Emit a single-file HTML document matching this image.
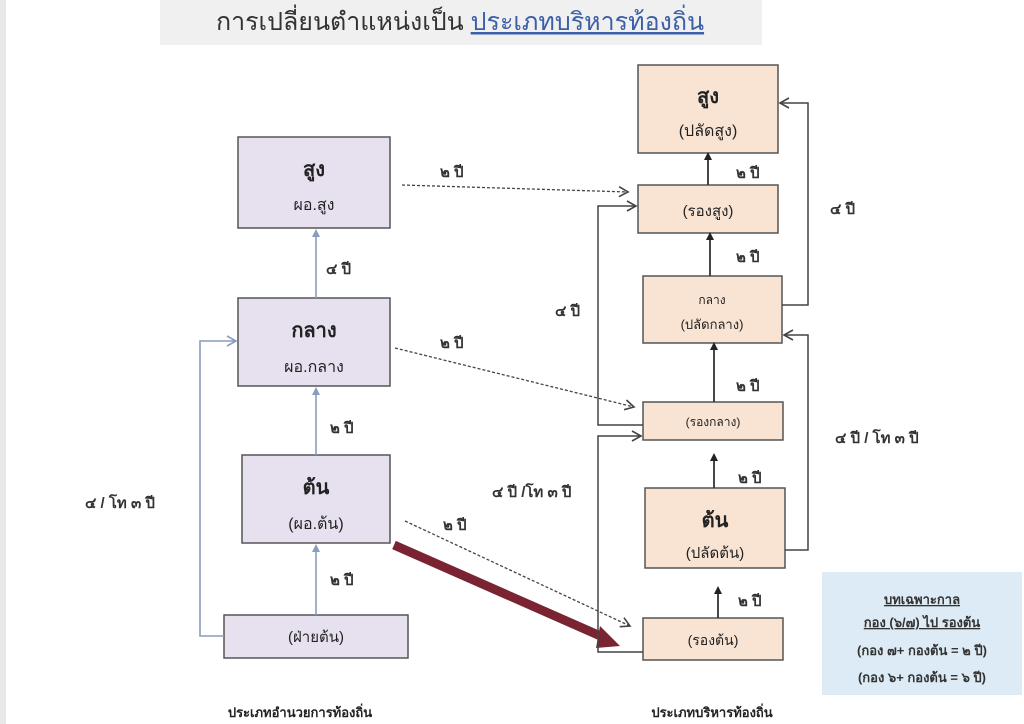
<!DOCTYPE html>
<html><head><meta charset="utf-8"><style>
html,body{margin:0;padding:0;background:#fff;}
svg{display:block;}
text{font-family:"Liberation Sans","Noto Sans CJK SC",sans-serif;}
</style></head><body>
<svg width="1024" height="724" viewBox="0 0 1024 724" xmlns="http://www.w3.org/2000/svg">
<defs>
<marker id="ob" markerWidth="12" markerHeight="12" refX="10" refY="6" orient="auto" markerUnits="userSpaceOnUse"><path d="M1,1 L10,6 L1,11" fill="none" stroke="#8a9cc0" stroke-width="1.6"/></marker>
<marker id="od" markerWidth="12" markerHeight="12" refX="10" refY="6" orient="auto" markerUnits="userSpaceOnUse"><path d="M1,1 L10,6 L1,11" fill="none" stroke="#444" stroke-width="1.6"/></marker>
<marker id="fd" markerWidth="8" markerHeight="8" refX="4" refY="4" orient="auto" markerUnits="userSpaceOnUse"><path d="M0,0 L8,4 L0,8 Z" fill="#222"/></marker>
<marker id="fb" markerWidth="8" markerHeight="8" refX="4" refY="4" orient="auto" markerUnits="userSpaceOnUse"><path d="M0,0 L8,4 L0,8 Z" fill="#8a9cc0"/></marker>
</defs>
<rect x="0" y="0" width="1024" height="724" fill="#fff"/>
<rect x="0" y="0" width="6" height="724" fill="#e8e8e8"/>
<rect x="160" y="0" width="602" height="45" fill="#f0f0f0"/>
<text x="460" y="30" font-size="25" text-anchor="middle" fill="#333">การเปลี่ยนตำแหน่งเป็น <tspan fill="#3b5fa8" text-decoration="underline">ประเภทบริหารท้องถิ่น</tspan></text>

<g fill="#e7e0ef" stroke="#555" stroke-width="1.5">
<rect x="238" y="137" width="152" height="91"/>
<rect x="238" y="298" width="152" height="88"/>
<rect x="242" y="455" width="148" height="88"/>
<rect x="224" y="615" width="184" height="43"/>
</g>
<g fill="#222" text-anchor="middle" font-weight="bold">
<text x="314" y="176" font-size="20">สูง</text>
<text x="314" y="210" font-size="16" font-weight="normal">ผอ.สูง</text>
<text x="314" y="337" font-size="20">กลาง</text>
<text x="314" y="372" font-size="16" font-weight="normal">ผอ.กลาง</text>
<text x="316" y="494" font-size="20">ต้น</text>
<text x="316" y="529" font-size="16" font-weight="normal">(ผอ.ต้น)</text>
<text x="316" y="642" font-size="15" font-weight="normal">(ฝ่ายต้น)</text>
</g>

<g stroke="#8a9cc0" stroke-width="1.6" fill="none">
<line x1="316" y1="615" x2="316" y2="548" marker-end="url(#fb)"/>
<line x1="316" y1="455" x2="316" y2="391" marker-end="url(#fb)"/>
<line x1="316" y1="298" x2="316" y2="233" marker-end="url(#fb)"/>
<polyline points="224,636 200,636 200,341 236,341" marker-end="url(#ob)"/>
</g>

<g fill="#333" font-size="15" font-weight="bold">
<text x="330" y="585">๒ ปี</text>
<text x="330" y="433">๒ ปี</text>
<text x="326" y="274">๔ ปี</text>
<text x="85" y="508">๔ / โท ๓ ปี</text>
<text x="440" y="177">๒ ปี</text>
<text x="440" y="348">๒ ปี</text>
<text x="443" y="530">๒ ปี</text>
<text x="555" y="316">๔ ปี</text>
<text x="492" y="497">๔ ปี /โท ๓ ปี</text>
<text x="736" y="178">๒ ปี</text>
<text x="736" y="262">๒ ปี</text>
<text x="736" y="391">๒ ปี</text>
<text x="738" y="483">๒ ปี</text>
<text x="738" y="606">๒ ปี</text>
<text x="830" y="214">๔ ปี</text>
<text x="835" y="443">๔ ปี / โท ๓ ปี</text>
</g>

<g stroke="#444" stroke-width="1.3" stroke-dasharray="3,2" fill="none">
<line x1="402" y1="185" x2="628" y2="192" marker-end="url(#od)"/>
<line x1="395" y1="348" x2="634" y2="407" marker-end="url(#od)"/>
<line x1="405" y1="521" x2="630" y2="626" marker-end="url(#od)"/>
</g>
<line x1="394" y1="545" x2="605" y2="638" stroke="#7a2433" stroke-width="9"/>
<path d="M600,626 L620,646 L596,648 Z" fill="#7a2433"/>

<g fill="#f9e4d4" stroke="#555" stroke-width="1.5">
<rect x="638" y="65" width="140" height="88"/>
<rect x="638" y="185" width="140" height="48"/>
<rect x="643" y="276" width="139" height="67"/>
<rect x="643" y="402" width="140" height="38"/>
<rect x="645" y="488" width="140" height="80"/>
<rect x="643" y="618" width="140" height="42"/>
</g>
<g fill="#222" text-anchor="middle">
<text x="708" y="103" font-size="20" font-weight="bold">สูง</text>
<text x="708" y="136" font-size="16">(ปลัดสูง)</text>
<text x="708" y="216" font-size="15">(รองสูง)</text>
<text x="712" y="304" font-size="12">กลาง</text>
<text x="712" y="329" font-size="13">(ปลัดกลาง)</text>
<text x="713" y="426" font-size="12">(รองกลาง)</text>
<text x="715" y="527" font-size="20" font-weight="bold">ต้น</text>
<text x="715" y="558" font-size="15">(ปลัดต้น)</text>
<text x="713" y="645" font-size="14">(รองต้น)</text>
</g>

<g stroke="#333" stroke-width="1.8" fill="none">
<line x1="718" y1="618" x2="718" y2="590" marker-end="url(#fd)"/>
<line x1="714" y1="488" x2="714" y2="457" marker-end="url(#fd)"/>
<line x1="714" y1="402" x2="714" y2="346" marker-end="url(#fd)"/>
<line x1="710" y1="276" x2="710" y2="236" marker-end="url(#fd)"/>
<line x1="708" y1="185" x2="708" y2="156" marker-end="url(#fd)"/>
</g>
<g stroke="#444" stroke-width="1.5" fill="none">
<polyline points="782,305 808,305 808,103 780,103" marker-end="url(#od)"/>
<polyline points="785,550 808,550 808,335 784,335" marker-end="url(#od)"/>
<polyline points="643,425 598,425 598,206 636,206" marker-end="url(#od)"/>
<polyline points="643,652 598,652 598,436 641,436" marker-end="url(#od)"/>
</g>

<rect x="822" y="572" width="200" height="123" fill="#dcebf5"/>
<g fill="#333" font-size="13" font-weight="bold" text-anchor="middle">
<text x="922" y="604" text-decoration="underline">บทเฉพาะกาล</text>
<text x="922" y="627" text-decoration="underline">กอง (๖/๗) ไป รองต้น</text>
<text x="922" y="655">(กอง ๗+ กองต้น = ๒ ปี)</text>
<text x="922" y="682">(กอง ๖+ กองต้น = ๖ ปี)</text>
</g>

<g fill="#222" font-size="13" font-weight="bold" text-anchor="middle">
<text x="300" y="717">ประเภทอำนวยการท้องถิ่น</text>
<text x="712" y="717">ประเภทบริหารท้องถิ่น</text>
</g>
</svg>
</body></html>
